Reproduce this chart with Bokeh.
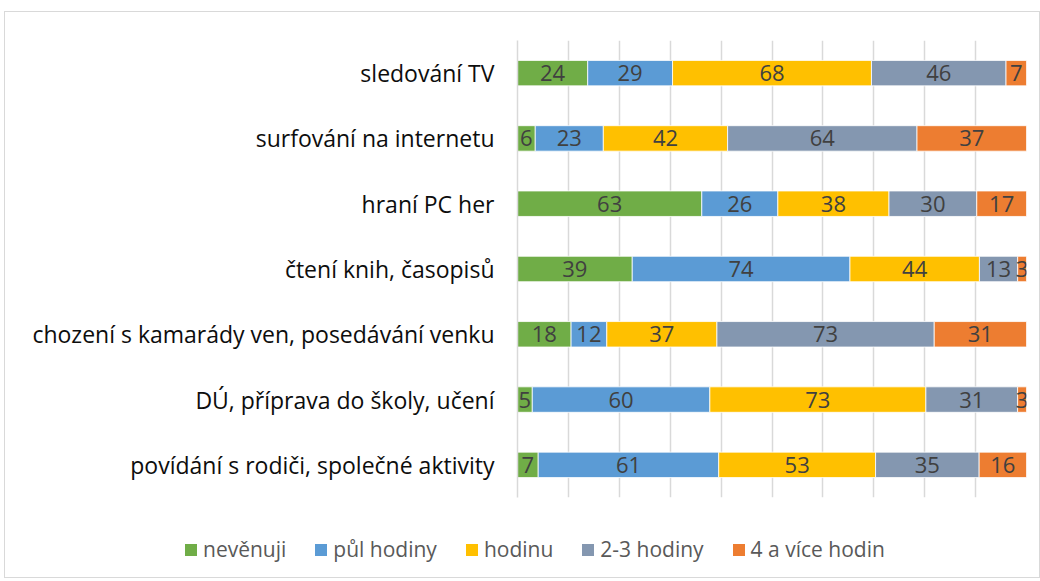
from bokeh.plotting import figure
from bokeh.layouts import column, row
from bokeh.models import ColumnDataSource, FactorRange, FixedTicker, Legend, LegendItem, Range1d
from bokeh.core.properties import value
from bokeh.embed import file_html
from bokeh.resources import INLINE

categories = [
    "sledování TV",
    "surfování na internetu",
    "hraní PC her",
    "čtení knih, časopisů",
    "chození s kamarády ven, posedávání venku",
    "DÚ, příprava do školy, učení",
    "povídání s rodiči, společné aktivity",
]
series = ["nevěnuji", "půl hodiny", "hodinu", "2-3 hodiny", "4 a více hodin"]
nevenuji = [24, 6, 63, 39, 18, 5, 7]
pul_hodiny = [29, 23, 26, 74, 12, 60, 61]
hodinu = [68, 42, 38, 44, 37, 73, 53]
dve_tri = [46, 64, 30, 13, 73, 31, 35]
ctyri = [7, 37, 17, 3, 31, 3, 16]
colors = ["#70AD47", "#5B9BD5", "#FFC000", "#8497B0", "#ED7D31"]

FONT = "Open Sans"
values = [nevenuji, pul_hodiny, hodinu, dve_tri, ctyri]
totals = [sum(v[i] for v in values) for i in range(len(categories))]

p = figure(width=1034, height=507, output_backend="svg", toolbar_location=None,
           y_range=FactorRange(factors=list(reversed(categories))),
           x_range=Range1d(0, 1))
p.min_border_left = 512
p.min_border_right = 13
p.min_border_top = 28
p.min_border_bottom = 22
p.outline_line_color = None
p.background_fill_color = "white"
p.border_fill_color = "white"

p.xaxis.visible = False
p.xgrid.ticker = FixedTicker(ticks=[i / 10 for i in range(11)])
p.xgrid.grid_line_color = "#d9d9d9"
p.xgrid.grid_line_width = 1.5
p.ygrid.grid_line_color = None

p.yaxis.axis_line_color = "#d9d9d9"
p.yaxis.axis_line_width = 1.5
p.yaxis.major_tick_line_color = None
p.yaxis.minor_tick_line_color = None
p.yaxis.major_label_standoff = 17
p.yaxis.major_label_text_font = FONT
p.yaxis.major_label_text_font_size = "23px"
p.yaxis.major_label_text_color = "#0d0d0d"

# legend strip below the chart (its swatches are proxies outside the visible range)
lg = figure(width=1034, height=58, output_backend="svg", toolbar_location=None,
            x_range=Range1d(0, 1), y_range=Range1d(0, 1))
lg.min_border = 0
lg.axis.visible = False
lg.grid.visible = False
lg.outline_line_color = None
lg.background_fill_color = "white"
lg.border_fill_color = "white"

items = []
left = [0.0] * len(categories)
for name, vals, col in zip(series, values, colors):
    frac = [v / t for v, t in zip(vals, totals)]
    right = [l + f for l, f in zip(left, frac)]
    src = ColumnDataSource(dict(y=categories, left=left, right=right,
                                mid=[(l + r) / 2 for l, r in zip(left, right)],
                                lab=[str(v) for v in vals]))
    p.hbar(y="y", left="left", right="right", height=0.39, source=src,
           fill_color=col, line_color="white", line_width=0.8)
    p.text(x="mid", y="y", text="lab", source=src, text_align="center",
           text_baseline="middle", text_font=value(FONT), text_font_size="22px",
           text_color="#404040")
    r = lg.hbar(y=[5], left=[5], right=[6], height=0.5, fill_color=col, line_color=None)
    items.append(LegendItem(label=name, renderers=[r]))
    left = right

legend = Legend(items=items, orientation="horizontal", location=(178, 14),
                label_text_font=FONT, label_text_font_size="21px",
                label_text_color="#595959", glyph_width=15, glyph_height=15,
                label_standoff=5, spacing=27, border_line_color=None,
                background_fill_alpha=0, margin=0, padding=0)
lg.add_layout(legend, "center")

layout = column(p, row(lg), spacing=0,
                styles={"border": "1px solid #d9d9d9", "margin-left": "4px",
                        "margin-top": "11px"})
open("out.html", "w").write(file_html(layout, INLINE))
